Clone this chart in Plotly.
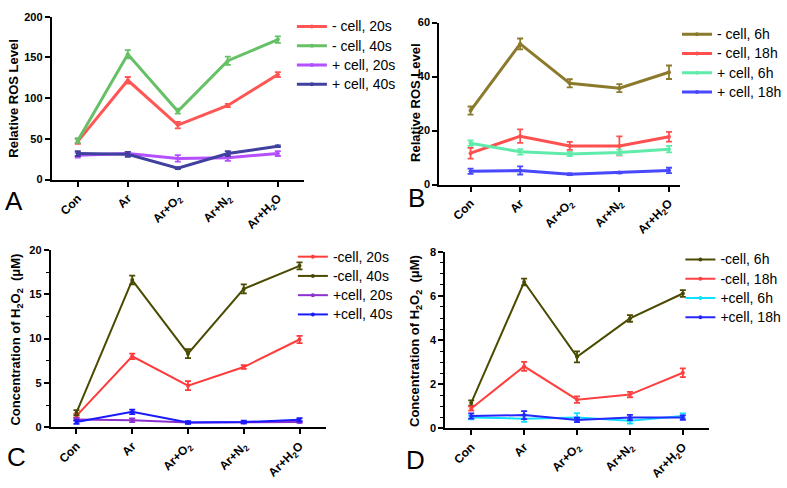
import plotly.graph_objects as go

W, H = 787, 488
FONT = "Liberation Sans"

categories = ["Con", "Ar", "Ar+O<sub>2</sub>", "Ar+N<sub>2</sub>", "Ar+H<sub>2</sub>O"]

# Panel A - Relative ROS level
a_names = ["- cell, 20s", "- cell, 40s", "+ cell, 20s", "+ cell, 40s"]
a_neg20 = [47, 122, 67, 91, 129]
a_neg20_err = [3, 4, 4, 2, 3]
a_neg40 = [48, 154, 84, 146, 172]
a_neg40_err = [3, 5, 3, 5, 4]
a_pos20 = [30, 32, 26, 27, 32]
a_pos20_err = [3, 2, 4, 4, 3]
a_pos40 = [32, 31, 14, 32, 41]
a_pos40_err = [3, 3, 1, 3, 1]

# Panel B - Relative ROS level
b_names = ["- cell, 6h", "- cell, 18h", "+ cell, 6h", "+ cell, 18h"]
b_neg6 = [27.4, 52.1, 37.5, 35.7, 41.6]
b_neg6_err = [1.5, 2.0, 1.5, 1.5, 2.5]
b_neg18 = [11.6, 17.9, 14.3, 14.3, 17.7]
b_neg18_err = [2.0, 2.5, 1.5, 3.5, 1.8]
b_pos6 = [15.3, 12.1, 11.3, 11.9, 13.1]
b_pos6_err = [1.0, 1.0, 0.8, 1.0, 1.2]
b_pos18 = [4.9, 5.2, 3.8, 4.4, 5.2]
b_pos18_err = [1.0, 1.5, 0.3, 0.3, 1.0]

# Panel C - H2O2 concentration
c_names = ["-cell, 20s", "-cell, 40s", "+cell, 20s", "+cell, 40s"]
c_neg20 = [1.3, 8.0, 4.7, 6.8, 9.9]
c_neg20_err = [0.2, 0.3, 0.5, 0.2, 0.4]
c_neg40 = [1.65, 16.6, 8.3, 15.6, 18.2]
c_neg40_err = [0.3, 0.5, 0.5, 0.5, 0.4]
c_pos20 = [0.9, 0.8, 0.55, 0.55, 0.6]
c_pos20_err = [0.15, 0.2, 0.1, 0.1, 0.1]
c_pos40 = [0.6, 1.75, 0.55, 0.6, 0.85]
c_pos40_err = [0.2, 0.25, 0.15, 0.15, 0.2]

# Panel D - H2O2 concentration
d_names = ["-cell, 6h", "-cell, 18h", "+cell, 6h", "+cell, 18h"]
d_neg6 = [1.15, 6.63, 3.24, 4.98, 6.11]
d_neg6_err = [0.12, 0.15, 0.25, 0.15, 0.15]
d_neg18 = [0.9, 2.81, 1.3, 1.53, 2.52]
d_neg18_err = [0.1, 0.2, 0.15, 0.12, 0.2]
d_pos6 = [0.49, 0.44, 0.49, 0.34, 0.56]
d_pos6_err = [0.08, 0.15, 0.2, 0.12, 0.12]
d_pos18 = [0.56, 0.6, 0.38, 0.49, 0.49]
d_pos18_err = [0.12, 0.18, 0.1, 0.12, 0.1]

a_colors = ["#FF5555", "#66C066", "#B450FF", "#40409E"]
b_colors = ["#8C7A2C", "#FF5050", "#60EBAA", "#4848FF"]
c_colors = ["#FF3B3B", "#4A4A00", "#8E2FD0", "#1A1AFF"]
d_colors = ["#4A4A00", "#FF4040", "#10E0FF", "#2626FF"]


def px_x(p):
    return p / W


def px_y(p):
    return 1 - p / H


fig = go.Figure()

panels = [
    ("1", [(a_neg20, a_neg20_err), (a_neg40, a_neg40_err), (a_pos20, a_pos20_err), (a_pos40, a_pos40_err)],
     a_names, a_colors, 3, "legend", (52, 305), (11, 178), [-0.52, 4.52], [0, 200], 50, None),
    ("2", [(b_neg6, b_neg6_err), (b_neg18, b_neg18_err), (b_pos6, b_pos6_err), (b_pos18, b_pos18_err)],
     b_names, b_colors, 3, "legend2", (441, 683), (17, 183), [-0.63, 4.23], [0, 60], 20, None),
    ("3", [(c_neg20, c_neg20_err), (c_neg40, c_neg40_err), (c_pos20, c_pos20_err), (c_pos40, c_pos40_err)],
     c_names, c_colors, 2, "legend3", (51, 327), (250, 432), [-0.46, 4.47], [0, 20], 5, 2.5),
    ("4", [(d_neg6, d_neg6_err), (d_neg18, d_neg18_err), (d_pos6, d_pos6_err), (d_pos18, d_pos18_err)],
     d_names, d_colors, 2, "legend4", (447, 712), (252, 433), [-0.49, 4.5], [0, 8], 2, 0.5),
]

layout_axes = {}
for key, series, names, colors, lw, leg, xd, yd, xr, yr, dt, minor in panels:
    xa = "x" if key == "1" else "x" + key
    ya = "y" if key == "1" else "y" + key
    for (vals, errs), name, col in zip(series, names, colors):
        fig.add_trace(go.Scatter(
            x=categories, y=vals,
            name="<span style='font-size:14px'>" + name + "</span>",
            mode="lines+markers",
            line=dict(color=col, width=lw),
            marker=dict(color=col, size=4),
            error_y=dict(type="data", array=errs, color=col, thickness=1.8, width=3),
            xaxis=xa, yaxis=ya, legend=leg,
        ))
    xname = "xaxis" if key == "1" else "xaxis" + key
    yname = "yaxis" if key == "1" else "yaxis" + key
    layout_axes[xname] = dict(
        domain=[px_x(xd[0]), px_x(xd[1])], anchor=ya, type="category",
        range=xr, showline=True, linecolor="black", linewidth=2,
        ticks="outside", ticklen=5, tickwidth=1.5, tickcolor="black",
        tickangle=-45, showgrid=False, zeroline=False,
        tickfont=dict(family=FONT, size=12, color="black", weight="bold"),
    )
    yax = dict(
        domain=[px_y(yd[1]), px_y(yd[0])], anchor=xa,
        range=yr, dtick=dt, tick0=0, showline=True, linecolor="black", linewidth=2,
        ticks="outside", ticklen=5, tickwidth=1.5, tickcolor="black",
        showgrid=False, zeroline=False,
        tickfont=dict(family=FONT, size=11, color="black", weight="bold"),
    )
    if minor:
        yax["minor"] = dict(dtick=minor, ticks="outside", ticklen=3, tickwidth=1.2,
                            tickcolor="black", showgrid=False)
    layout_axes[yname] = yax

leg_common = dict(font=dict(family=FONT, size=12.5, color="black"), bgcolor="rgba(0,0,0,0)",
                  xanchor="left", yanchor="top", orientation="v", tracegroupgap=0)

fig.update_layout(
    width=W, height=H, margin=dict(l=0, r=0, t=0, b=0),
    paper_bgcolor="white", plot_bgcolor="white",
    showlegend=True,
    legend=dict(x=px_x(293), y=px_y(6), **leg_common),
    legend2=dict(x=px_x(680), y=px_y(14), **leg_common),
    legend3=dict(x=px_x(294), y=px_y(242), **leg_common),
    legend4=dict(x=px_x(683), y=px_y(245), **leg_common),
    **layout_axes,
)

ann_font = dict(family=FONT, size=13, color="black", weight="bold")
titles = [
    ("Relative ROS Level", 14, 94),
    ("Relative ROS Level", 417, 99),
    ("Concentration of H<sub>2</sub>O<sub>2</sub>  (μM)", 17, 342),
    ("Concentration of H<sub>2</sub>O<sub>2</sub>  (μM)", 417, 343),
]
for txt, x, y in titles:
    fig.add_annotation(text=txt, x=px_x(x), y=px_y(y), xref="paper", yref="paper",
                       textangle=-90, showarrow=False, font=ann_font,
                       xanchor="center", yanchor="middle")

letters = [("A", 14, 200), ("B", 418, 197), ("C", 17, 462), ("D", 417, 465)]
for txt, x, y in letters:
    fig.add_annotation(text=txt, x=px_x(x), y=px_y(y), xref="paper", yref="paper",
                       showarrow=False, font=dict(family=FONT, size=26, color="black"),
                       xanchor="center", yanchor="middle")

fig.write_html("out.html", config={"displayModeBar": False},
               post_script="document.body.style.margin='0px';document.body.style.overflow='hidden';")
